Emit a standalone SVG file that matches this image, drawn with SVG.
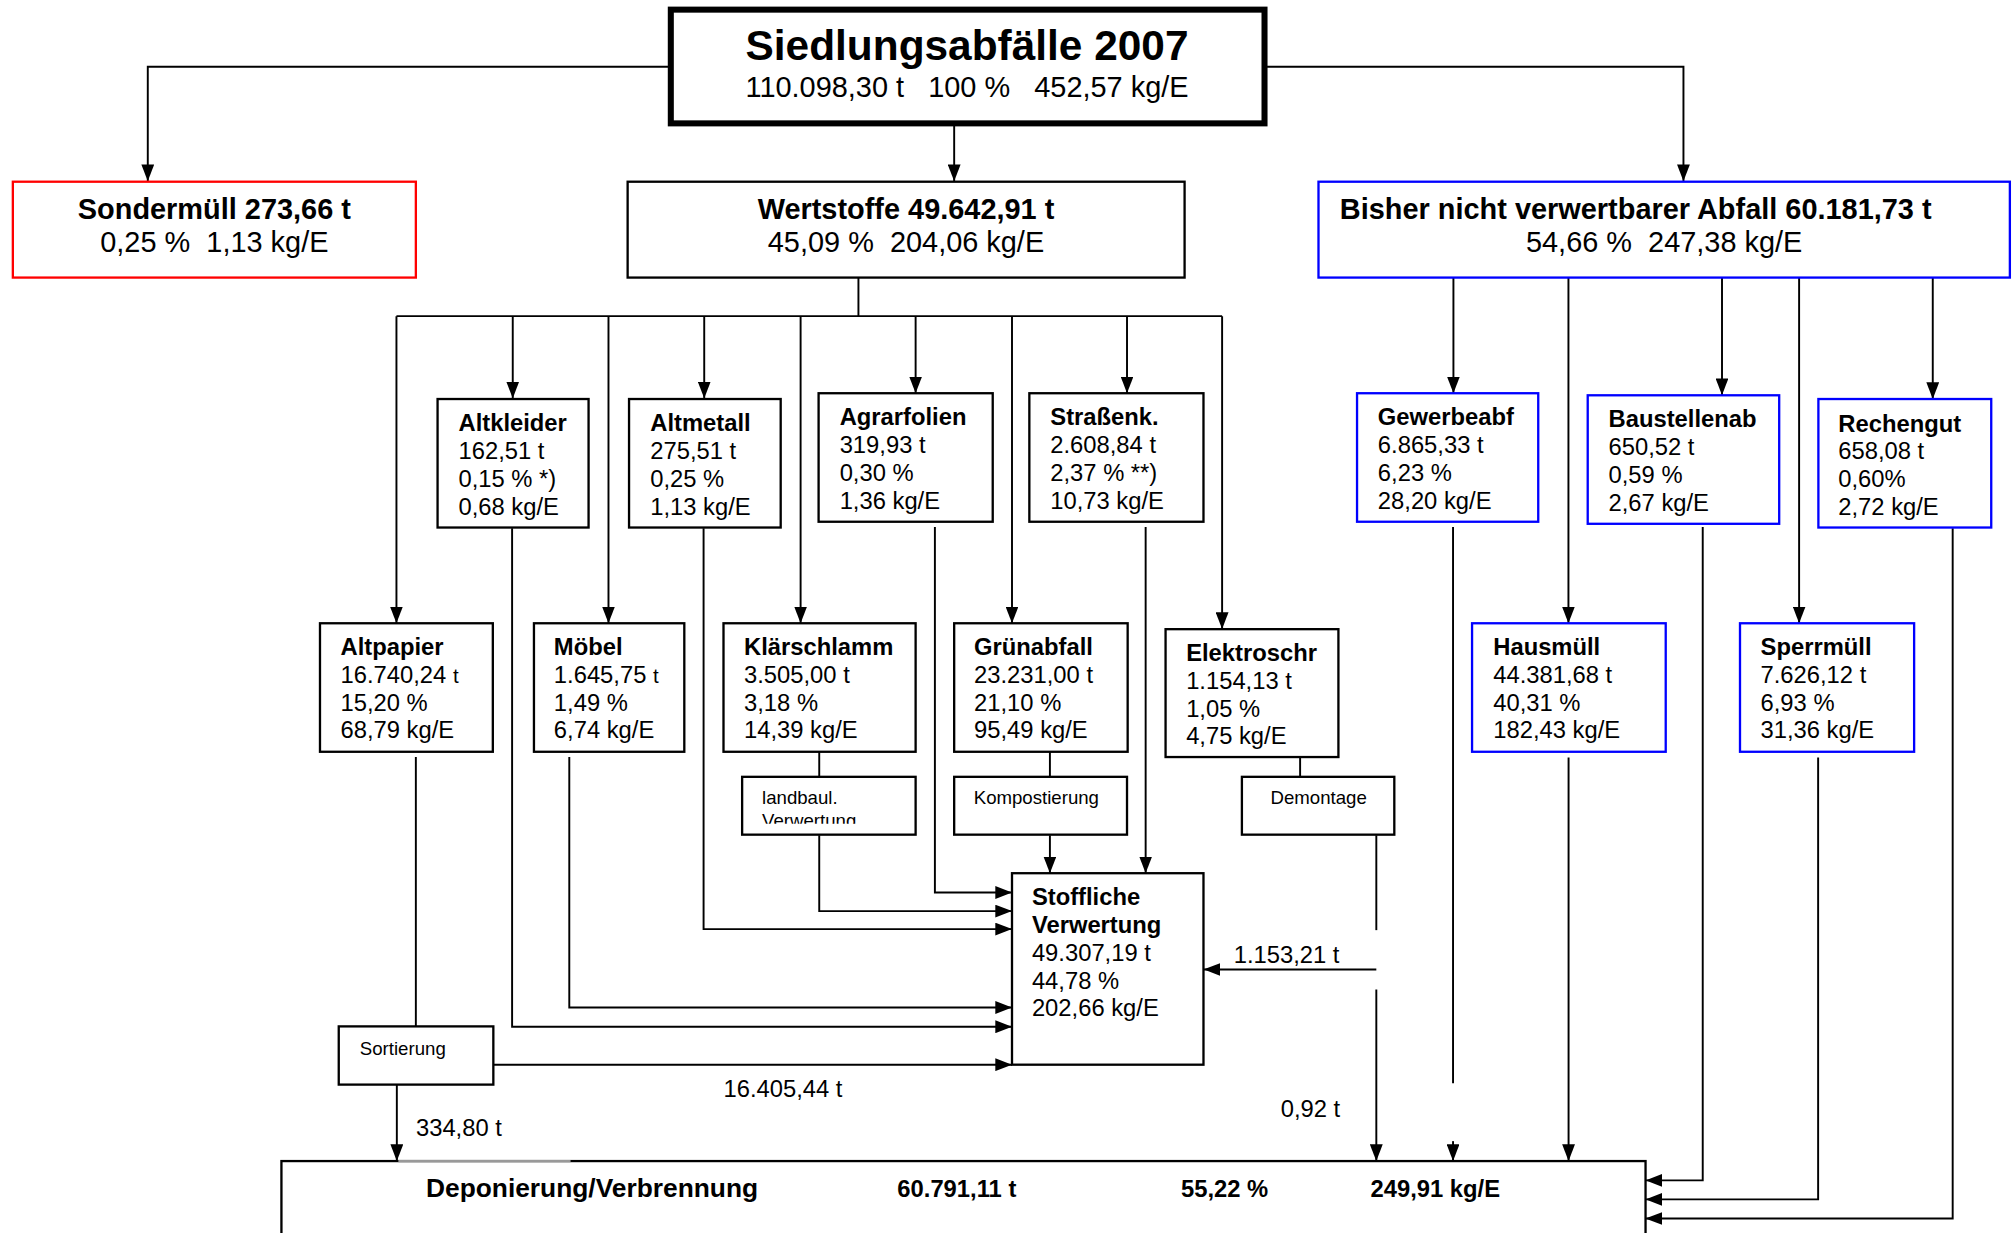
<svg xmlns="http://www.w3.org/2000/svg" width="2015" height="1233" viewBox="0 0 2015 1233">
<defs>
<marker id="arr" markerUnits="userSpaceOnUse" markerWidth="13" markerHeight="10" viewBox="0 0 13 10" refX="13" refY="5" orient="auto"><path d="M0,0 L13,5 L0,10 z" fill="#000"/></marker>
<clipPath id="clipLand"><rect x="578" y="605" width="134" height="36"/></clipPath>
<style>
text{font-family:"Liberation Sans",Arial,sans-serif;fill:#000}
.b{font-weight:bold}
.box{fill:#fff;stroke:#000;stroke-width:1.8}
.red{fill:#fff;stroke:#ff0000;stroke-width:1.8}
.blue{fill:#fff;stroke:#0000ff;stroke-width:1.8}
.c{fill:none;stroke:#000;stroke-width:1.5}
.ca{fill:none;stroke:#000;stroke-width:1.5;marker-end:url(#arr)}
.t1{font-size:33px}
.t2{font-size:22.5px}
.t3{font-size:18.5px}
.t4{font-size:14.5px}
.mid{text-anchor:middle}
</style>
</defs>
<rect width="2015" height="1233" fill="#fff"/>
<g transform="scale(1.28508)">
<g id="connectors">
<path class="ca" d="M522,52 H115 V141"/>
<path class="ca" d="M984,52 H1310 V141"/>
<path class="ca" d="M742.5,96 V141"/>
<path class="c" d="M668,215 V246"/>
<path class="c" d="M308.5,246 H951"/>
<path class="ca" d="M308.5,246 V485"/>
<path class="ca" d="M399,246 V310"/>
<path class="ca" d="M473.5,246 V485"/>
<path class="ca" d="M548,246 V310"/>
<path class="ca" d="M623,246 V485"/>
<path class="ca" d="M712.5,246 V306"/>
<path class="ca" d="M787.5,246 V485"/>
<path class="ca" d="M877,246 V306"/>
<path class="ca" d="M951,246 V489.5"/>
<path class="ca" d="M1131,216 V306"/>
<path class="ca" d="M1220.5,216 V485"/>
<path class="ca" d="M1340,216 V307.5"/>
<path class="ca" d="M1400,216 V485"/>
<path class="ca" d="M1504,216 V310.5"/>
<path class="ca" d="M727.5,410 V694.5 H787.5"/>
<path class="ca" d="M891.5,410 V679.5"/>
<path class="c" d="M637.5,585 V604.5"/>
<path class="ca" d="M637.5,650 V709 H787.5"/>
<path class="ca" d="M547.5,411 V723 H787.5"/>
<path class="c" d="M817,585 V604.5"/>
<path class="ca" d="M817,650 V679.5"/>
<path class="ca" d="M443,589 V784 H787.5"/>
<path class="ca" d="M398.5,411 V799 H787.5"/>
<path class="c" d="M323.6,589 V798.7"/>
<path class="ca" d="M384,828.5 H787.5"/>
<path class="ca" d="M308.8,844 V903.5"/>
<path class="c" d="M1011.7,589 V604.5"/>
<path class="c" d="M1071,650 V723.8"/>
<path class="ca" d="M1071,754.4 H936.6"/>
<path class="ca" d="M1071,770 V903.5"/>
<path class="c" d="M1130.7,410 V843"/>
<path class="ca" d="M1130.7,888 V903.5"/>
<path class="ca" d="M1220.6,589.5 V903.5"/>
<path class="ca" d="M1325,410 V918.5 H1280.5"/>
<path class="ca" d="M1414.8,589.5 V933.3 H1280.5"/>
<path class="ca" d="M1519.5,411 V948.2 H1280.5"/>
</g>
<g id="labels">
<text class="t3" x="563" y="853.4">16.405,44 t</text>
<text class="t3" x="323.7" y="883.8">334,80 t</text>
<text class="t3" x="960" y="749">1.153,21 t</text>
<text class="t3" x="996.6" y="869">0,92 t</text>
</g>
<g id="n-title">
<rect x="522" y="7.5" width="462" height="88.5" fill="#fff" stroke="#000" stroke-width="4.7"/>
<text class="t1 b mid" x="752.5" y="46.7">Siedlungsabfälle 2007</text>
<text class="t2 mid" x="752.5" y="75.7" xml:space="preserve">110.098,30 t   100 %   452,57 kg/E</text>
</g>
<g id="n-sondermuell">
<rect class="red" x="10" y="141.4" width="313.6" height="74.6"/>
<text class="t2 b mid" x="166.8" y="170.4">Sondermüll 273,66 t</text>
<text class="t2 mid" x="166.8" y="196.4" xml:space="preserve">0,25 %  1,13 kg/E</text>
</g>
<g id="n-wertstoffe">
<rect class="box" x="488.4" y="141.4" width="433.4" height="74.6"/>
<text class="t2 b mid" x="705" y="170.4">Wertstoffe 49.642,91 t</text>
<text class="t2 mid" x="705" y="196.4" xml:space="preserve">45,09 %  204,06 kg/E</text>
</g>
<g id="n-bisher">
<rect class="blue" x="1026" y="141.4" width="538" height="74.6"/>
<text class="t2 b" x="1042.6" y="170.4">Bisher nicht verwertbarer Abfall 60.181,73 t</text>
<text class="t2 mid" x="1295" y="196.4" xml:space="preserve">54,66 %  247,38 kg/E</text>
</g>
<g id="n-altkleider">
<rect class="box" x="340.5" y="310.5" width="117.5" height="100"/>
<text class="t3"><tspan class="b" x="356.8" y="335.4">Altkleider</tspan><tspan x="356.8" y="357.2">162,51 t</tspan><tspan x="356.8" y="379">0,15 % *)</tspan><tspan x="356.8" y="400.6">0,68 kg/E</tspan></text>
</g>
<g id="n-altmetall">
<rect class="box" x="489.5" y="310.5" width="118" height="100"/>
<text class="t3"><tspan class="b" x="506" y="335.4">Altmetall</tspan><tspan x="506" y="357.2">275,51 t</tspan><tspan x="506" y="379">0,25 %</tspan><tspan x="506" y="400.6">1,13 kg/E</tspan></text>
</g>
<g id="n-agrarfolien">
<rect class="box" x="637" y="306" width="135.5" height="100"/>
<text class="t3"><tspan class="b" x="653.4" y="330.7">Agrarfolien</tspan><tspan x="653.4" y="352.6">319,93 t</tspan><tspan x="653.4" y="374.4">0,30 %</tspan><tspan x="653.4" y="396">1,36 kg/E</tspan></text>
</g>
<g id="n-strassenk">
<rect class="box" x="801" y="306" width="135.5" height="100"/>
<text class="t3"><tspan class="b" x="817.3" y="330.7">Straßenk.</tspan><tspan x="817.3" y="352.6">2.608,84 t</tspan><tspan x="817.3" y="374.4">2,37 % **)</tspan><tspan x="817.3" y="396">10,73 kg/E</tspan></text>
</g>
<g id="n-gewerbeabf">
<rect class="blue" x="1056" y="306" width="141" height="100"/>
<text class="t3"><tspan class="b" x="1072.2" y="330.7">Gewerbeabf</tspan><tspan x="1072.2" y="352.6">6.865,33 t</tspan><tspan x="1072.2" y="374.4">6,23 %</tspan><tspan x="1072.2" y="396">28,20 kg/E</tspan></text>
</g>
<g id="n-baustellenab">
<rect class="blue" x="1235.5" y="307.6" width="149" height="100"/>
<text class="t3"><tspan class="b" x="1251.7" y="332.5">Baustellenab</tspan><tspan x="1251.7" y="354.4">650,52 t</tspan><tspan x="1251.7" y="376.2">0,59 %</tspan><tspan x="1251.7" y="397.8">2,67 kg/E</tspan></text>
</g>
<g id="n-rechengut">
<rect class="blue" x="1415" y="310.5" width="134.5" height="100"/>
<text class="t3"><tspan class="b" x="1430.5" y="336">Rechengut</tspan><tspan x="1430.5" y="357.5">658,08 t</tspan><tspan x="1430.5" y="379">0,60%</tspan><tspan x="1430.5" y="400.6">2,72 kg/E</tspan></text>
</g>
<g id="n-altpapier">
<rect class="box" x="249" y="485" width="134.5" height="100"/>
<text class="t3"><tspan class="b" x="265" y="509.7">Altpapier</tspan><tspan x="265" y="531.4">16.740,24 <tspan font-size="16">t</tspan></tspan><tspan x="265" y="553">15,20 %</tspan><tspan x="265" y="574.6">68,79 kg/E</tspan></text>
</g>
<g id="n-moebel">
<rect class="box" x="415.5" y="485" width="117" height="100"/>
<text class="t3"><tspan class="b" x="431" y="509.7">Möbel</tspan><tspan x="431" y="531.4">1.645,75 <tspan font-size="16">t</tspan></tspan><tspan x="431" y="553">1,49 %</tspan><tspan x="431" y="574.6">6,74 kg/E</tspan></text>
</g>
<g id="n-klaerschlamm">
<rect class="box" x="563" y="485" width="149.5" height="100" stroke="#444"/>
<text class="t3"><tspan class="b" x="579" y="509.7">Klärschlamm</tspan><tspan x="579" y="531.4">3.505,00 t</tspan><tspan x="579" y="553">3,18 %</tspan><tspan x="579" y="574.6">14,39 kg/E</tspan></text>
</g>
<g id="n-gruenabfall">
<rect class="box" x="742.5" y="485" width="135" height="100"/>
<text class="t3"><tspan class="b" x="758" y="509.7">Grünabfall</tspan><tspan x="758" y="531.4">23.231,00 t</tspan><tspan x="758" y="553">21,10 %</tspan><tspan x="758" y="574.6">95,49 kg/E</tspan></text>
</g>
<g id="n-elektroschr">
<rect class="box" x="907" y="489.6" width="134.5" height="99.5"/>
<text class="t3"><tspan class="b" x="923" y="514.4">Elektroschr</tspan><tspan x="923" y="536.1">1.154,13 t</tspan><tspan x="923" y="557.7">1,05 %</tspan><tspan x="923" y="579.3">4,75 kg/E</tspan></text>
</g>
<g id="n-hausmuell">
<rect class="blue" x="1145.5" y="485" width="150.7" height="100"/>
<text class="t3"><tspan class="b" x="1162" y="509.7">Hausmüll</tspan><tspan x="1162" y="531.4">44.381,68 t</tspan><tspan x="1162" y="553">40,31 %</tspan><tspan x="1162" y="574.6">182,43 kg/E</tspan></text>
</g>
<g id="n-sperrmuell">
<rect class="blue" x="1354" y="485" width="135.5" height="100"/>
<text class="t3"><tspan class="b" x="1370" y="509.7">Sperrmüll</tspan><tspan x="1370" y="531.4">7.626,12 t</tspan><tspan x="1370" y="553">6,93 %</tspan><tspan x="1370" y="574.6">31,36 kg/E</tspan></text>
</g>
<g id="n-landbaul">
<rect class="box" x="577.5" y="604.5" width="135" height="45"/>
<g clip-path="url(#clipLand)"><text class="t4"><tspan x="593" y="625.7">landbaul.</tspan><tspan x="593" y="643.2">Verwertung</tspan></text></g>
</g>
<g id="n-kompostierung">
<rect class="box" x="742.5" y="604.5" width="134.5" height="45"/>
<text class="t4" x="757.7" y="625.7">Kompostierung</text>
</g>
<g id="n-demontage">
<rect class="box" x="966.4" y="604.5" width="118.6" height="45"/>
<text class="t4" x="988.7" y="625.7">Demontage</text>
</g>
<g id="n-sortierung">
<rect class="box" x="263.6" y="798.7" width="120.3" height="45.3"/>
<text class="t4" x="280" y="821.3">Sortierung</text>
</g>
<g id="n-stoffliche">
<rect class="box" x="787.5" y="679.5" width="149" height="149"/>
<text class="t3"><tspan class="b" x="803" y="704">Stoffliche</tspan><tspan class="b" x="803" y="726">Verwertung</tspan><tspan x="803" y="748">49.307,19 t</tspan><tspan x="803" y="769.5">44,78 %</tspan><tspan x="803" y="791">202,66 kg/E</tspan></text>
</g>
<g id="n-deponierung">
<rect class="box" x="219" y="903.5" width="1061.5" height="100"/>
<line x1="310" y1="903.5" x2="444" y2="903.5" stroke="#999" stroke-width="1.8"/>
<text class="b" font-size="20.5" x="331.5" y="931.3">Deponierung/Verbrennung</text>
<text class="b t3" x="698.3" y="931.3">60.791,11 t</text>
<text class="b t3" x="919" y="931.3">55,22 %</text>
<text class="b t3" x="1066.5" y="931.3">249,91 kg/E</text>
</g>
</g>
</svg>
